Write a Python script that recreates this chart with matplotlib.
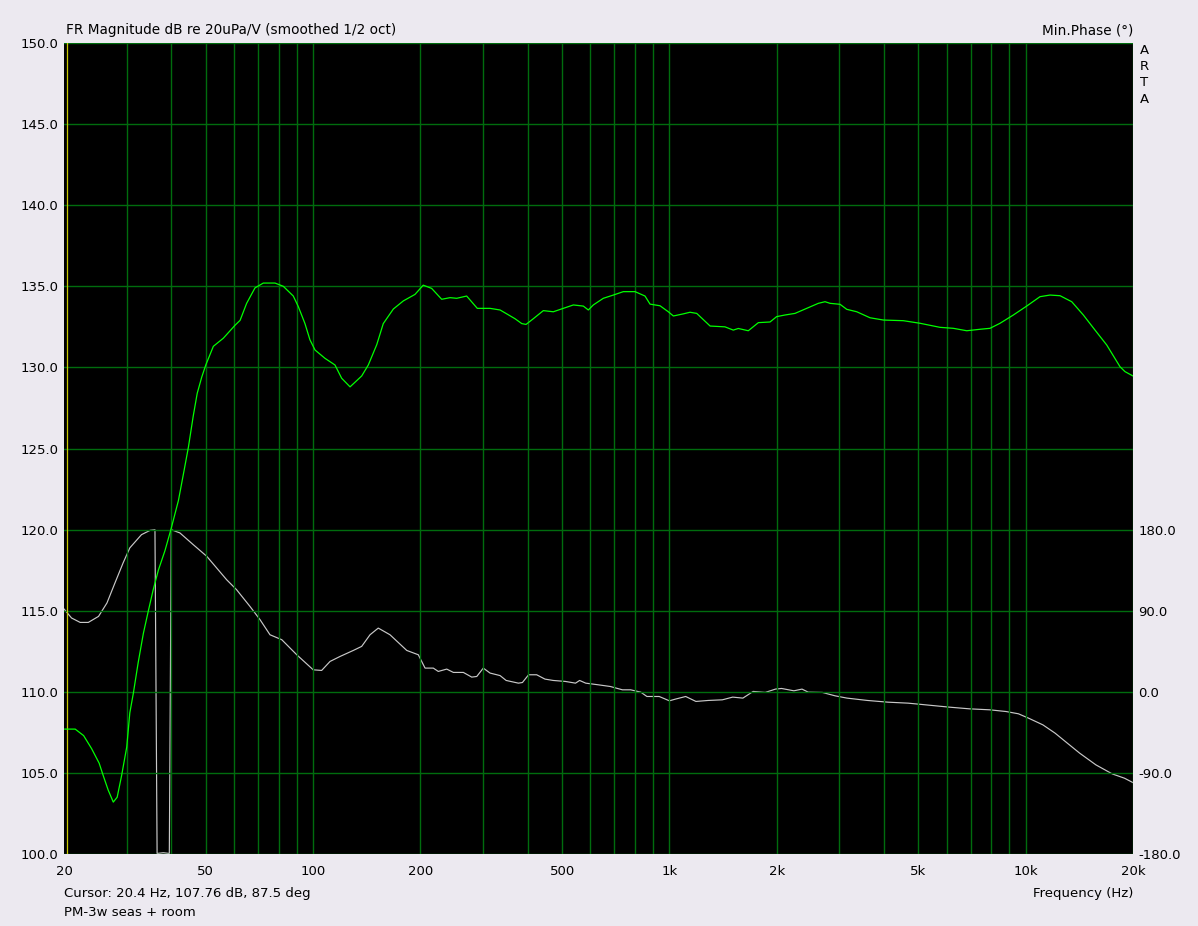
import matplotlib
matplotlib.use("Agg")
import matplotlib.pyplot as plt
import numpy as np
from matplotlib.ticker import FixedLocator, NullLocator

# Magnitud (dB re 20uPa/V), suavizada 1/2 oct
mag_f = [20.1, 21.5, 22.7, 23.9, 25.1, 25.8, 26.6, 27.5, 28.2, 29.0, 30.0, 30.6, 31.3, 32.3,
         33.4, 34.5, 35.6, 36.8, 38.4, 39.9, 41.9, 43.5, 44.7, 46.1, 47.3, 48.7, 50.0, 52.5,
         56.0, 60.4, 62.4, 65.1, 68.7, 72.5, 78.2, 82.5, 88.0, 90.9, 94.9, 98.0, 101.3, 108.0,
         115.2, 120.3, 127.0, 136.9, 142.9, 150.9, 157.4, 168.0, 179.2, 193.2, 203.8, 215.2,
         229.6, 242.4, 253.0, 269.8, 289.0, 313.8, 334.8, 349.6, 368.8, 385.2, 396.0, 415.0,
         442.8, 472.4, 503.8, 537.6, 573.4, 592.2, 611.6, 652.4, 696.0, 742.4, 801.0, 854.2,
         882.4, 941.2, 993, 1026, 1094, 1142, 1193, 1301, 1432, 1511, 1561, 1665, 1777, 1916,
         2000, 2110, 2252, 2428, 2618, 2734, 2824, 3012, 3146, 3356, 3656, 3986, 4534, 5052,
         5746, 6262, 6830, 7442, 7938, 8470, 9230, 10060, 10966, 11698, 12482, 13460, 14510,
         15648, 16878, 18392, 18990, 20000]
mag_db = [107.7, 107.7, 107.3, 106.5, 105.6, 104.8, 103.95, 103.2, 103.5, 104.8, 106.6, 108.7,
          109.9, 111.8, 113.6, 115.0, 116.3, 117.5, 118.7, 120.0, 121.8, 123.7, 125.1, 127.0,
          128.4, 129.4, 130.15, 131.3, 131.8, 132.6, 132.9, 133.95, 134.9, 135.2, 135.2, 135.0,
          134.4, 133.75, 132.7, 131.7, 131.07, 130.56, 130.15, 129.33, 128.8, 129.47, 130.15,
          131.4, 132.7, 133.6, 134.1, 134.5, 135.07, 134.87, 134.2, 134.3, 134.26, 134.4,
          133.64, 133.64, 133.54, 133.3, 133.0, 132.7, 132.65, 133.0, 133.5, 133.43, 133.64,
          133.85, 133.78, 133.54, 133.85, 134.26, 134.46, 134.67, 134.67, 134.4, 133.9, 133.8,
          133.43, 133.17, 133.3, 133.4, 133.33, 132.55, 132.5, 132.3, 132.4, 132.26, 132.76,
          132.8, 133.13, 133.23, 133.33, 133.64, 133.95, 134.05, 133.95, 133.89, 133.58,
          133.43, 133.06, 132.92, 132.88, 132.72, 132.47, 132.41, 132.26, 132.35, 132.41,
          132.72, 133.23, 133.78, 134.36, 134.46, 134.42, 134.05, 133.23, 132.3, 131.38,
          130.04, 129.74, 129.47]

# Fase mínima (grados, sin envolver)
fase_f = [20.0, 21.0, 22.2, 23.4, 25.0, 26.4, 27.8, 29.3, 30.6, 33.0, 34.9, 36.0, 36.5, 38.0,
          39.5, 40.0, 42.3, 46.1, 50.3, 57.2, 61.0, 66.5, 71.0, 75.7, 81.7, 90.0, 100.1, 105.7,
          111.6, 119.0, 129.7, 136.9, 144.5, 152.4, 164.4, 183.2, 197.4, 206.2, 217.5, 224.6,
          237.2, 247.6, 264.1, 278.8, 288.0, 300.4, 313.8, 334.8, 348.2, 377.0, 386.8, 402.6,
          424.2, 447.4, 471.8, 510.4, 545.2, 559.8, 582.4, 630.4, 682.4, 738.2, 778.4, 831.4,
          864.6, 936.2, 1000, 1040, 1111, 1187, 1285, 1408, 1505, 1608, 1718, 1858, 1985, 2064,
          2236, 2356, 2452, 2688, 2912, 3150, 3594, 4102, 4678, 5340, 6092, 6950, 7932, 8810,
          9538, 10190, 11174, 12090, 13086, 14170, 15738, 17488, 18932, 20000]
fase_deg = [91.9, 81.9, 77.0, 77.0, 83.7, 98.6, 120.8, 143.0, 159.7, 174.4, 179.2, 179.8, 180.6,
            181.4, 180.6, 179.9, 176.3, 163.3, 150.4, 124.4, 113.3, 94.8, 80.0, 63.3, 57.8,
            41.1, 24.4, 23.7, 33.7, 39.2, 45.9, 50.4, 63.3, 70.7, 63.3, 45.9, 41.1, 26.3, 26.3,
            22.6, 25.2, 21.5, 21.5, 16.3, 17.0, 26.3, 20.8, 18.0, 12.6, 9.6, 10.3, 18.9, 18.9,
            14.1, 12.6, 11.5, 9.6, 12.6, 9.6, 7.8, 5.9, 2.2, 2.2, -0.4, -5.2, -5.2, -10.0, -8.1,
            -5.2, -10.7, -9.6, -8.9, -5.9, -7.0, 0.4, -0.7, 3.0, 3.7, 1.1, 3.0, -0.4, -0.7,
            -4.4, -7.0, -9.6, -11.5, -12.6, -14.8, -17.0, -18.9, -20.0, -21.9, -24.4, -29.3,
            -36.7, -45.9, -57.0, -68.1, -81.1, -91.1, -95.9, -100.8]

cursor_f = 20.4
xticks = [20, 50, 100, 200, 500, 1000, 2000, 5000, 10000, 20000]
xtick_labels = ['20', '50', '100', '200', '500', '1k', '2k', '5k', '10k', '20k']
yticks = [100, 105, 110, 115, 120, 125, 130, 135, 140, 145, 150]
fase_ticks = [-180, -90, 0, 90, 180]

fondo = '#ECE9F0'
verde_grid = '#006C0E'
plt.rcParams['font.family'] = 'DejaVu Sans'
plt.rcParams['font.size'] = 9

fig = plt.figure(figsize=(11.98, 9.26), dpi=100, facecolor=fondo)
ax = fig.add_axes([64 / 1198, 72 / 926, (1133 - 64) / 1198, (854 - 43) / 926])
ax.set_facecolor('black')
ax.set_xscale('log')
ax.set_xlim(20, 20000)
ax.set_ylim(100, 150)

# rejilla manual
lineas_x = [m * d for d in (10, 100, 1000) for m in range(3, 11)] + [200, 2000, 20000]
for fx in lineas_x:
    ax.axvline(fx, color=verde_grid, lw=1.0, zorder=1)
for yy in yticks:
    ax.axhline(yy, color=verde_grid, lw=1.0, zorder=1)

ax.axvline(cursor_f, color='#C8C800', lw=0.9, zorder=2)

# fase en eje derecho
ax2 = ax.twinx()
ax2.set_ylim(-180, 720)
fase = np.array(fase_deg)
fase = np.where(fase > 180, fase - 360, fase)
ax2.plot(fase_f, fase, color='#C8C8C8', lw=0.85, zorder=3)
ax2.yaxis.set_major_locator(FixedLocator(fase_ticks))
ax2.set_yticklabels([f'{v:.1f}' for v in fase_ticks])
ax2.yaxis.set_minor_locator(NullLocator())

ax.plot(mag_f, mag_db, color='#00FF00', lw=0.9, zorder=4)
ax.set_zorder(ax2.get_zorder() + 1)
ax.patch.set_visible(False)
ax2.set_facecolor('black')
ax2.patch.set_visible(True)

ax.xaxis.set_major_locator(FixedLocator(xticks))
ax.xaxis.set_minor_locator(NullLocator())
ax.set_xticklabels(xtick_labels)
ax.yaxis.set_major_locator(FixedLocator(yticks))
ax.set_yticklabels([f'{v:.1f}' for v in yticks])

for a in (ax, ax2):
    a.tick_params(length=0, pad=4, labelsize=9.5, colors='black')
    for s in a.spines.values():
        s.set_visible(False)
ax.tick_params(axis='x', pad=8)

fig.text(66 / 1198, 1 - 30 / 926, 'FR Magnitude dB re 20uPa/V (smoothed 1/2 oct)',
         fontsize=9.8, va='center', ha='left')
fig.text(1133 / 1198, 1 - 30 / 926, 'Min.Phase (°)', fontsize=9.8, va='center', ha='right')
for i, letra in enumerate('ARTA'):
    fig.text(1144 / 1198, 1 - (50 + i * 16.5) / 926, letra, fontsize=9.5, va='center', ha='center')
fig.text(64 / 1198, 1 - 893 / 926, 'Cursor: 20.4 Hz, 107.76 dB, 87.5 deg',
         fontsize=9.5, va='center', ha='left')
fig.text(64 / 1198, 1 - 913 / 926, 'PM-3w seas + room', fontsize=9.5, va='center', ha='left')
fig.text(1133 / 1198, 1 - 893 / 926, 'Frequency (Hz)', fontsize=9.5, va='center', ha='right')

fig.savefig('out.png', dpi=100, facecolor=fondo)
